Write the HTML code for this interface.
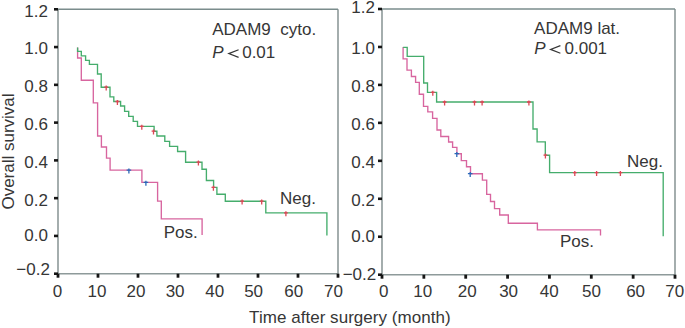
<!DOCTYPE html>
<html><head><meta charset="utf-8"><style>
html,body{margin:0;padding:0;background:#fff;}
svg{display:block;}
text{font-family:"Liberation Sans",sans-serif;font-size:17px;fill:#363636;}
</style></head><body>
<svg width="685" height="328" viewBox="0 0 685 328">
<rect width="685" height="328" fill="#fff"/>
<path d="M58 9.3V273.7H338V9.3" fill="none" stroke="#8e9a9a" stroke-width="1.6"/>
<path d="M58 9.3H338" fill="none" stroke="#7a8c8c" stroke-width="1.6"/>
<line x1="54" y1="9.30" x2="58" y2="9.30" stroke="#151515" stroke-width="2.6"/>
<text x="47.9" y="16.60" text-anchor="end">1.2</text>
<line x1="54" y1="47.07" x2="58" y2="47.07" stroke="#151515" stroke-width="2.6"/>
<text x="47.9" y="54.30" text-anchor="end">1.0</text>
<line x1="54" y1="84.84" x2="58" y2="84.84" stroke="#151515" stroke-width="2.6"/>
<text x="47.9" y="92.45" text-anchor="end">0.8</text>
<line x1="54" y1="122.61" x2="58" y2="122.61" stroke="#151515" stroke-width="2.6"/>
<text x="47.9" y="129.50" text-anchor="end">0.6</text>
<line x1="54" y1="160.39" x2="58" y2="160.39" stroke="#151515" stroke-width="2.6"/>
<text x="47.9" y="167.60" text-anchor="end">0.4</text>
<line x1="54" y1="198.16" x2="58" y2="198.16" stroke="#151515" stroke-width="2.6"/>
<text x="47.9" y="206.05" text-anchor="end">0.2</text>
<line x1="54" y1="235.93" x2="58" y2="235.93" stroke="#151515" stroke-width="2.6"/>
<text x="47.9" y="241.40" text-anchor="end">0.0</text>
<line x1="54" y1="273.70" x2="58" y2="273.70" stroke="#151515" stroke-width="2.6"/>
<text x="49.9" y="275.30" text-anchor="end">−0.2</text>
<line x1="58.00" y1="273.7" x2="58.00" y2="277.7" stroke="#151515" stroke-width="2.8"/>
<text x="57.45" y="296.8" text-anchor="middle">0</text>
<line x1="98.00" y1="273.7" x2="98.00" y2="277.7" stroke="#151515" stroke-width="2.8"/>
<text x="96.95" y="296.8" text-anchor="middle">10</text>
<line x1="138.00" y1="273.7" x2="138.00" y2="277.7" stroke="#151515" stroke-width="2.8"/>
<text x="135.90" y="296.8" text-anchor="middle">20</text>
<line x1="178.00" y1="273.7" x2="178.00" y2="277.7" stroke="#151515" stroke-width="2.8"/>
<text x="175.10" y="296.8" text-anchor="middle">30</text>
<line x1="218.00" y1="273.7" x2="218.00" y2="277.7" stroke="#151515" stroke-width="2.8"/>
<text x="214.70" y="296.8" text-anchor="middle">40</text>
<line x1="258.00" y1="273.7" x2="258.00" y2="277.7" stroke="#151515" stroke-width="2.8"/>
<text x="253.60" y="296.8" text-anchor="middle">50</text>
<line x1="298.00" y1="273.7" x2="298.00" y2="277.7" stroke="#151515" stroke-width="2.8"/>
<text x="293.70" y="296.8" text-anchor="middle">60</text>
<line x1="338.00" y1="273.7" x2="338.00" y2="277.7" stroke="#151515" stroke-width="2.8"/>
<text x="333.40" y="296.8" text-anchor="middle">70</text>
<path d="M382 9.0V274.7H675V9.0" fill="none" stroke="#8e9a9a" stroke-width="1.6"/>
<path d="M382 9.0H675" fill="none" stroke="#7a8c8c" stroke-width="1.6"/>
<line x1="378" y1="9.00" x2="382" y2="9.00" stroke="#151515" stroke-width="2.6"/>
<text x="375.0" y="13.35" text-anchor="end">1.2</text>
<line x1="378" y1="46.96" x2="382" y2="46.96" stroke="#151515" stroke-width="2.6"/>
<text x="375.0" y="54.25" text-anchor="end">1.0</text>
<line x1="378" y1="84.91" x2="382" y2="84.91" stroke="#151515" stroke-width="2.6"/>
<text x="375.0" y="92.25" text-anchor="end">0.8</text>
<line x1="378" y1="122.87" x2="382" y2="122.87" stroke="#151515" stroke-width="2.6"/>
<text x="375.0" y="129.65" text-anchor="end">0.6</text>
<line x1="378" y1="160.83" x2="382" y2="160.83" stroke="#151515" stroke-width="2.6"/>
<text x="375.0" y="167.75" text-anchor="end">0.4</text>
<line x1="378" y1="198.79" x2="382" y2="198.79" stroke="#151515" stroke-width="2.6"/>
<text x="375.0" y="206.10" text-anchor="end">0.2</text>
<line x1="378" y1="236.74" x2="382" y2="236.74" stroke="#151515" stroke-width="2.6"/>
<text x="375.0" y="241.75" text-anchor="end">0.0</text>
<line x1="378" y1="274.70" x2="382" y2="274.70" stroke="#151515" stroke-width="2.6"/>
<text x="376.2" y="280.40" text-anchor="end">−0.2</text>
<line x1="382.00" y1="274.7" x2="382.00" y2="278.7" stroke="#151515" stroke-width="2.8"/>
<text x="383.80" y="296.9" text-anchor="middle">0</text>
<line x1="423.86" y1="274.7" x2="423.86" y2="278.7" stroke="#151515" stroke-width="2.8"/>
<text x="422.80" y="296.9" text-anchor="middle">10</text>
<line x1="465.71" y1="274.7" x2="465.71" y2="278.7" stroke="#151515" stroke-width="2.8"/>
<text x="467.20" y="296.9" text-anchor="middle">20</text>
<line x1="507.57" y1="274.7" x2="507.57" y2="278.7" stroke="#151515" stroke-width="2.8"/>
<text x="508.60" y="296.9" text-anchor="middle">30</text>
<line x1="549.43" y1="274.7" x2="549.43" y2="278.7" stroke="#151515" stroke-width="2.8"/>
<text x="549.20" y="296.9" text-anchor="middle">40</text>
<line x1="591.29" y1="274.7" x2="591.29" y2="278.7" stroke="#151515" stroke-width="2.8"/>
<text x="591.50" y="296.9" text-anchor="middle">50</text>
<line x1="633.14" y1="274.7" x2="633.14" y2="278.7" stroke="#151515" stroke-width="2.8"/>
<text x="635.60" y="296.9" text-anchor="middle">60</text>
<line x1="675.00" y1="274.7" x2="675.00" y2="278.7" stroke="#151515" stroke-width="2.8"/>
<text x="674.80" y="296.9" text-anchor="middle">70</text>
<path d="M77.6 47.4 V58 H81.3 V80.2 H93.3 V102.9 H97.6 V136 H101.4 V147 H106.5 V158.1 H110.1 V170.1 H141.9 V182.4 H157.6 V201.1 H161.3 V218.8 H202.1 V235" stroke="#d8659f" stroke-width="1.35" fill="none"/>
<path d="M77.6 47.4 V51.3 H81.3 V55.8 H85.6 V60.4 H89.4 V64.4 H97.5 V74 H101.2 V87.2 H110 V96.9 H113.8 V101.5 H120.6 V106 H124.6 V111.3 H128.7 V116.3 H133.2 V121.4 H137.5 V126.4 H154.1 V131.2 H156.9 V136.0 H164.8 V141.4 H169.6 V146.4 H177.6 V151.5 H185.6 V162.2 H202 V169.2 H206.4 V180.5 H213.6 V187.4 H216.9 V194.2 H225.3 V201.2 H265.8 V212.8 H326.9 V235.6" stroke="#45ad6c" stroke-width="1.35" fill="none"/>
<path d="M104.30 87.20H108.10M106.20 85.60V90.60" stroke="#de4656" stroke-width="1.3" fill="none"/>
<path d="M115.50 101.50H119.30M117.40 99.90V104.90" stroke="#de4656" stroke-width="1.3" fill="none"/>
<path d="M139.90 126.40H143.70M141.80 124.80V129.80" stroke="#de4656" stroke-width="1.3" fill="none"/>
<path d="M151.60 131.20H155.40M153.50 129.60V134.60" stroke="#de4656" stroke-width="1.3" fill="none"/>
<path d="M196.50 162.20H200.30M198.40 160.60V165.60" stroke="#de4656" stroke-width="1.3" fill="none"/>
<path d="M211.50 187.40H215.30M213.40 185.80V190.80" stroke="#de4656" stroke-width="1.3" fill="none"/>
<path d="M240.20 201.20H244.00M242.10 199.60V204.60" stroke="#de4656" stroke-width="1.3" fill="none"/>
<path d="M259.80 201.20H263.60M261.70 199.60V204.60" stroke="#de4656" stroke-width="1.3" fill="none"/>
<path d="M284.00 212.80H287.80M285.90 211.20V216.20" stroke="#de4656" stroke-width="1.3" fill="none"/>
<path d="M126.60 170.10H131.20M128.90 168.50V173.50" stroke="#2a68b8" stroke-width="1.3" fill="none"/>
<path d="M143.60 182.40H148.20M145.90 180.80V185.80" stroke="#2a68b8" stroke-width="1.3" fill="none"/>
<path d="M403.1 47.1 V58.8 H407 V70.1 H411.4 V76.5 H415.6 V82.4 H419.3 V94.2 H423.5 V106.3 H427.8 V111.9 H432.6 V118.3 H437 V130 H440.8 V136.5 H448.6 V142 H452.6 V147.4 H456.9 V153.7 H461.3 V160.6 H466.5 V166.7 H470.5 V173.7 H482.4 V180.1 H486.7 V194.3 H490.5 V201.5 H494.5 V208.6 H499.7 V215 H508.3 V223.2 H537.4 V229.8 H600.5 V235.6" stroke="#d8659f" stroke-width="1.35" fill="none"/>
<path d="M403.1 47.3 H407.2 V56.3 H423.7 V83 H427.5 V92.3 H436.6 V102 H533 V129 H537.1 V141.8 H545.3 V155.2 H549.6 V172.6 H663.2 V236.3" stroke="#45ad6c" stroke-width="1.35" fill="none"/>
<path d="M430.90 92.30H434.70M432.80 90.70V95.70" stroke="#de4656" stroke-width="1.3" fill="none"/>
<path d="M442.70 102.00H446.50M444.60 100.40V105.40" stroke="#de4656" stroke-width="1.3" fill="none"/>
<path d="M472.60 102.00H476.40M474.50 100.40V105.40" stroke="#de4656" stroke-width="1.3" fill="none"/>
<path d="M480.20 102.00H484.00M482.10 100.40V105.40" stroke="#de4656" stroke-width="1.3" fill="none"/>
<path d="M527.00 102.00H530.80M528.90 100.40V105.40" stroke="#de4656" stroke-width="1.3" fill="none"/>
<path d="M543.50 155.20H547.30M545.40 153.60V158.60" stroke="#de4656" stroke-width="1.3" fill="none"/>
<path d="M572.90 172.60H576.70M574.80 171.00V176.00" stroke="#de4656" stroke-width="1.3" fill="none"/>
<path d="M594.70 172.60H598.50M596.60 171.00V176.00" stroke="#de4656" stroke-width="1.3" fill="none"/>
<path d="M618.50 172.60H622.30M620.40 171.00V176.00" stroke="#de4656" stroke-width="1.3" fill="none"/>
<path d="M454.50 153.70H459.10M456.80 152.10V157.10" stroke="#2a68b8" stroke-width="1.3" fill="none"/>
<path d="M467.90 173.70H472.50M470.20 172.10V177.10" stroke="#2a68b8" stroke-width="1.3" fill="none"/>
<text x="212.2" y="35.0" >ADAM9  cyto.</text>
<text x="212.2" y="58.0" font-style="italic">P</text>
<path d="M238.6 49.8 L228.8 53.6 L238.6 57.4" stroke="#363636" stroke-width="1.2" fill="none"/>
<text x="242.2" y="58.0" >0.01</text>
<text x="534.1" y="33.6" >ADAM9 lat.</text>
<text x="534.2" y="53.9" font-style="italic">P</text>
<path d="M560.4 45.6 L550.6 49.4 L560.4 53.2" stroke="#363636" stroke-width="1.2" fill="none"/>
<text x="564.5" y="53.9" >0.001</text>
<text x="280.0" y="203.8" >Neg.</text>
<text x="163.7" y="238.1" >Pos.</text>
<text x="627.0" y="166.7" >Neg.</text>
<text x="560" y="246.5" >Pos.</text>
<text x="249.1" y="323.1" textLength="201.5" lengthAdjust="spacing">Time after surgery (month)</text>
<text transform="translate(14.2,151.5) rotate(-90)" text-anchor="middle">Overall survival</text>
</svg>
</body></html>
